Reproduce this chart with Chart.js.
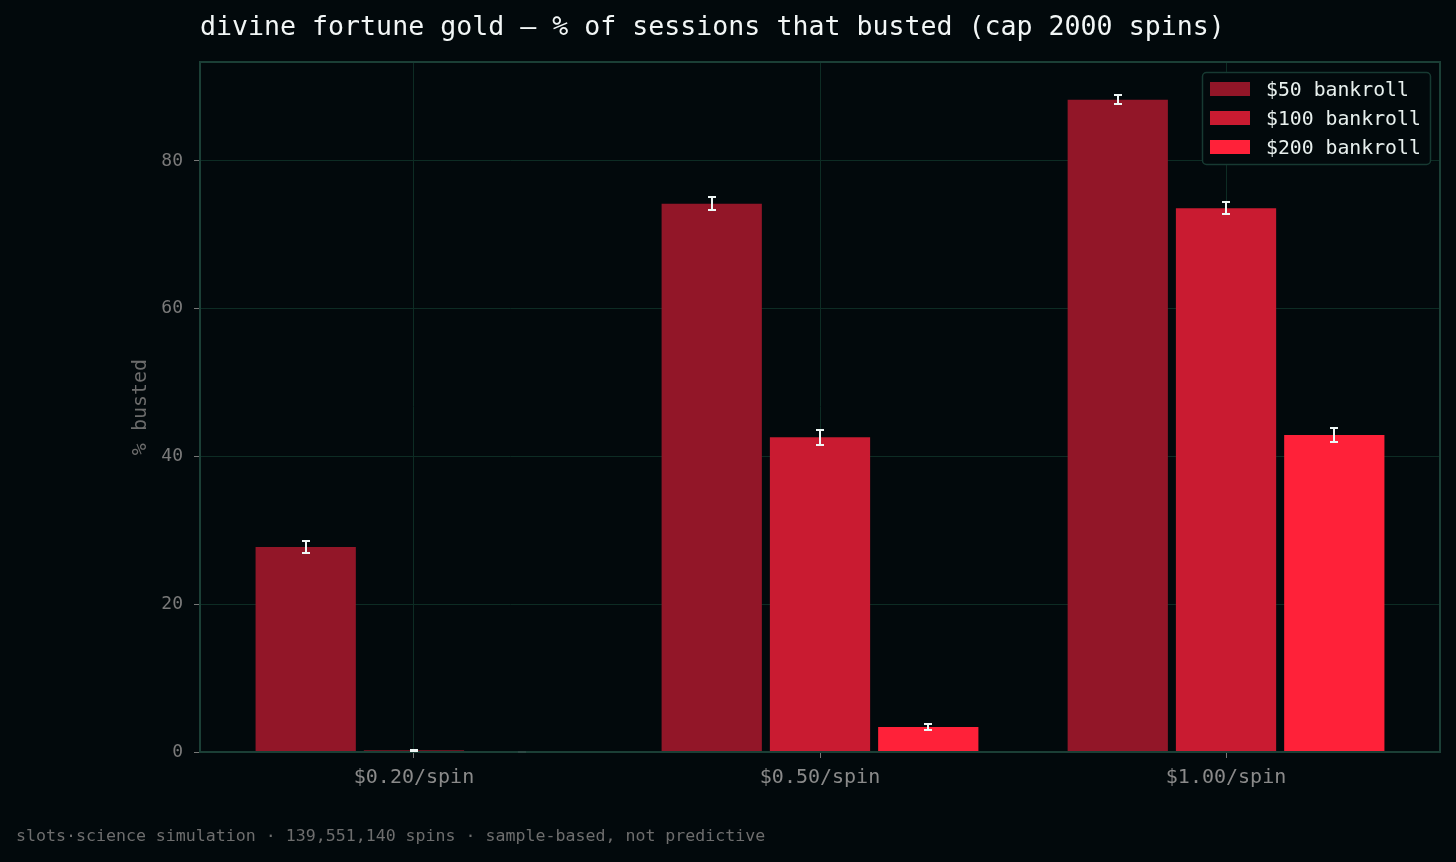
<!DOCTYPE html>
<html>
<head>
<meta charset="utf-8">
<script src="https://cdn.jsdelivr.net/npm/chart.js@4.4.0/dist/chart.umd.min.js"></script>
<style>
  body { margin: 0; background: #02090c; }
  #wrap { width: 1456px; height: 862px; }
</style>
</head>
<body>
<div id="wrap"><canvas id="bustChart" width="1456" height="862"></canvas></div>
<script>
  // data
  const categories = ['$0.20/spin', '$0.50/spin', '$1.00/spin'];
  const seriesLabels = ['$50 bankroll', '$100 bankroll', '$200 bankroll'];
  const bust50 = [27.75, 74.2, 88.3];
  const bust100 = [0.2, 42.6, 73.6];
  const bust200 = [0.0, 3.4, 42.9];
  const err50 = [0.8, 0.9, 0.65];
  const err100 = [0.1, 1.0, 0.8];
  const err200 = [0.0, 0.4, 0.95];
  const yTicks = [0, 20, 40, 60, 80];

  const colors = ['#921628', '#c91b31', '#ff2139'];
  const gridColor = '#0d2c24';
  const spineColor = '#1b3f36';
  const mono = '"DejaVu Sans Mono", monospace';

  const seriesValues = [bust50, bust100, bust200];
  const seriesErrors = [err50, err100, err200];

  const datasets = seriesLabels.map((label, i) => ({
    label: label,
    data: seriesValues[i].map((v, j) => ({ x: j, y: v })),
    errors: seriesErrors[i],
    backgroundColor: colors[i],
    borderWidth: 0,
    categoryPercentage: 0.8,
    barPercentage: 0.926
  }));

  // title, axis title, footer, legend, frame and error bars
  const decorations = {
    id: 'decorations',
    afterDraw(chart) {
      const ctx = chart.ctx;
      const area = chart.chartArea;
      const yScale = chart.scales.y;

      // frame
      ctx.save();
      ctx.strokeStyle = spineColor;
      ctx.lineWidth = 2;
      ctx.strokeRect(area.left, area.top, area.right - area.left, area.bottom - area.top);

      // error bars
      ctx.lineWidth = 2;
      chart.data.datasets.forEach((ds, i) => {
        const meta = chart.getDatasetMeta(i);
        meta.data.forEach((bar, j) => {
          const v = ds.data[j].y, e = ds.errors[j];
          const top = Math.round(yScale.getPixelForValue(v + e));
          const bot = Math.round(yScale.getPixelForValue(Math.max(0, v - e)));
          const x = Math.round(bar.x);
          // an empty bar only leaves a faint cap on the axis
          ctx.strokeStyle = (v === 0 && e === 0) ? '#2c4a44' : '#eef6f5';
          ctx.beginPath();
          ctx.moveTo(x, top); ctx.lineTo(x, bot);
          ctx.moveTo(x - 4, top); ctx.lineTo(x + 4, top);
          ctx.moveTo(x - 4, bot); ctx.lineTo(x + 4, bot);
          ctx.stroke();
        });
      });

      // title
      ctx.fillStyle = '#f2f6f6';
      ctx.font = '26.6px ' + mono;
      ctx.textBaseline = 'middle';
      ctx.textAlign = 'left';
      ctx.fillText('divine fortune gold \u2014 % of sessions that busted (cap 2000 spins)', area.left, 28);

      // y axis title
      ctx.save();
      ctx.translate(141, (area.top + area.bottom) / 2);
      ctx.rotate(-Math.PI / 2);
      ctx.textAlign = 'center';
      ctx.fillStyle = '#6c6c6c';
      ctx.font = '20px ' + mono;
      ctx.fillText('% busted', 0, 0);
      ctx.restore();

      // footer
      ctx.fillStyle = '#6e6e6e';
      ctx.font = '16.6px ' + mono;
      ctx.textAlign = 'left';
      ctx.fillText('slots\u00b7science simulation \u00b7 139,551,140 spins \u00b7 sample-based, not predictive', 16, 837);

      // legend
      const lx = 1202, ly = 72, lw = 228, lh = 92;
      ctx.fillStyle = '#02090c';
      ctx.strokeStyle = '#173a32';
      ctx.lineWidth = 1.5;
      ctx.beginPath();
      ctx.roundRect(lx + 0.5, ly + 0.5, lw, lh, 4);
      ctx.fill();
      ctx.stroke();
      ctx.font = '19.8px ' + mono;
      chart.data.datasets.forEach((ds, i) => {
        const cy = 89 + i * 29;
        ctx.fillStyle = ds.backgroundColor;
        ctx.fillRect(1210, cy - 7, 40, 14);
        ctx.fillStyle = '#e8f0ee';
        ctx.fillText(ds.label, 1266, cy + 1.5);
      });
      ctx.restore();
    }
  };

  new Chart(document.getElementById('bustChart'), {
    type: 'bar',
    data: { datasets: datasets },
    options: {
      responsive: false,
      animation: false,
      layout: { padding: { top: 62, right: 16, left: 0, bottom: 0 } },
      plugins: {
        legend: { display: false },
        tooltip: { enabled: false }
      },
      scales: {
        x: {
          type: 'linear',
          min: -0.527,
          max: 2.527,
          offset: false,
          z: 1,
          afterBuildTicks: axis => { axis.ticks = categories.map((c, i) => ({ value: i })); },
          afterFit: scale => { scale.height = 110; },
          ticks: {
            callback: v => categories[v],
            color: '#8a8a8a',
            font: { family: mono, size: 20 },
            padding: 8,
            maxRotation: 0
          },
          grid: { offset: false, color: gridColor, tickColor: '#777777', tickLength: 6, lineWidth: 1 },
          border: { color: spineColor, width: 2 }
        },
        y: {
          min: 0,
          max: 93.4,
          z: 1,
          afterBuildTicks: axis => { axis.ticks = yTicks.map(v => ({ value: v })); },
          afterFit: scale => { scale.width = 200; },
          ticks: {
            color: '#7a7a7a',
            font: { family: mono, size: 18 },
            padding: 11
          },
          grid: { color: gridColor, tickColor: '#777777', tickLength: 6, lineWidth: 1 },
          border: { color: spineColor, width: 2 }
        }
      }
    },
    plugins: [decorations]
  });
</script>
</body>
</html>
